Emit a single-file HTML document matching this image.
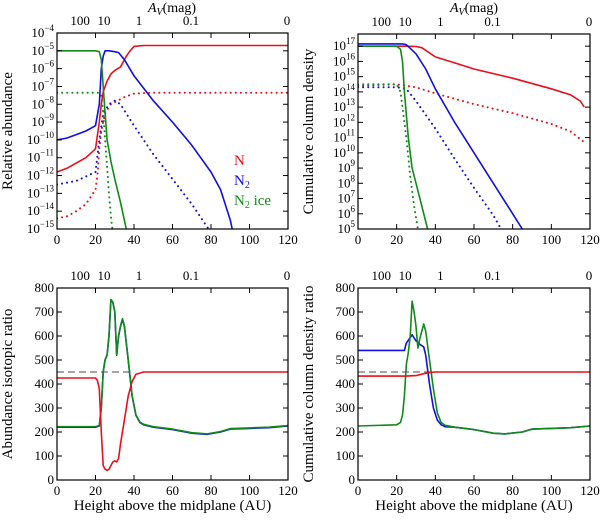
<!DOCTYPE html>
<html><head><meta charset="utf-8"><style>
body{margin:0;background:#fff}
svg, svg text, svg tspan{font-family:"Liberation Serif","DejaVu Serif",serif}
</style></head><body>
<svg id="fig" width="600" height="516" viewBox="0 0 600 516" font-family="Liberation Serif, serif"></svg>
<script>
// ---- data ----
const tlN_x=[0,5,10,15,20,22,23,24,26,28,30,33,36,38,40,45,60,120];
const tlN_y=[-11.8,-11.6,-11.3,-11,-10.5,-9,-8,-7.3,-6.7,-6.3,-6.1,-5.9,-5.3,-5,-4.75,-4.7,-4.7,-4.7];
const tlN2_x=[0,5,10,15,20,22,23,24,25,27,30,32,35,40,50,60,70,80,85,90,92];
const tlN2_y=[-10,-9.9,-9.7,-9.5,-9.2,-8,-6,-5.3,-5,-5,-5.05,-5.1,-5.5,-6.4,-7.8,-9,-10.3,-11.8,-12.8,-14.5,-15.5];
const tlIce_x=[0,20,22,23,24,25,26,28,30,33,36,37];
const tlIce_y=[-5,-5,-5.05,-5.5,-7,-8.5,-10,-11.2,-12.2,-13.5,-15,-15.5];
const tlNd_x=[0,5,10,15,20,21,22,23,25,28,35,40,50,120];
const tlNd_y=[-14.4,-14.3,-14,-13.6,-12.8,-12,-10.5,-9.5,-8.5,-8,-7.6,-7.4,-7.35,-7.35];
const tlN2d_x=[0,10,20,22,24,27,30,33,40,50,60,70,80];
const tlN2d_y=[-12.5,-12.3,-11.8,-10,-8.5,-8,-7.8,-8,-9.2,-10.8,-12.2,-13.6,-15.2];
const tlIced_x=[0,22,23,24,25,26,27,28,29,30];
const tlIced_y=[-7.35,-7.35,-7.5,-8.5,-10,-11.5,-13,-14.3,-15.2,-15.5];

const trN_x=[0,25,30,33,40,50,60,80,100,110,115,117];
const trN_y=[17,17,16.98,16.9,16.3,15.9,15.5,14.9,14.2,13.8,13.4,13.0];
const trN2_x=[0,23,25,30,35,40,50,60,70,80,85];
const trN2_y=[17.15,17.15,17.1,16.5,15.5,14.2,12,10,8,6,5];
const trIce_x=[0,20,22,23,24,26,28,30,33,36];
const trIce_y=[17,17,16.8,16,14,11,9,8,6.5,5];
const trNd_x=[0,20,30,40,60,80,100,110,118];
const trNd_y=[14.4,14.5,14.3,13.9,13.2,12.6,11.9,11.4,10.6];
const trN2d_x=[0,20,25,30,40,50,60,70,74];
const trN2d_y=[14.3,14.3,14.2,13.4,11.6,9.6,7.7,5.9,5];
const trIced_x=[0,20,22,23,25,27,29,31];
const trIced_y=[14.5,14.5,14,13,11,8.5,6.5,5];

const blN_x=[0,20,21,22,23,24,25,26,27,28,29,30,31,32,33,35,37,39,41,45,120];
const blN_y=[425,425,415,380,200,60,45,40,45,60,75,80,75,90,150,250,350,410,440,450,450];
const blN2_x=[0,20,22,23,24,25,26,27,28,29,30,31,32,33,34,35,37,39,41,43,45,50,60,70,78,85,90,100,110,120];
const blN2_y=[220,220,225,300,450,500,520,600,750,740,700,520,600,640,670,640,500,350,270,240,230,220,210,195,190,200,212,215,218,225];

const brN_x=[0,25,30,35,40,120];
const brN_y=[433,433,435,445,450,450];
const brN2_x=[0,24,25,28,30,32,34,35,37,39,41,43,45,50,60,70,76,85,90,100,110,120];
const brN2_y=[540,540,570,605,580,565,555,520,400,300,250,230,222,220,210,195,192,200,212,215,218,225];
const brIce_x=[0,20,22,23,24,25,26,27,28,29,30,31,32,34,35,37,39,41,43,45,50,60,70,76,85,90,100,110,120];
const brIce_y=[225,230,240,270,350,480,530,600,745,700,640,550,590,650,620,500,380,280,240,228,220,210,195,192,200,212,215,218,225];

const xTicks=[0,20,40,60,80,100,120];
const avLabels=["100","10","1","0.1","0"];
const avPos=[12,24.4,42.6,69.6,119.5];

// ---- drawing ----
const svg=document.getElementById('fig');
const NS='http://www.w3.org/2000/svg';
const FF='Liberation Serif, DejaVu Serif, serif';
function el(tag,attrs,parent){const e=document.createElementNS(NS,tag);for(const k in attrs)e.setAttribute(k,attrs[k]);if(tag==='text')e.setAttribute('font-family',FF);(parent||svg).appendChild(e);return e;}
const RED='#e8101a',BLUE='#1010e0',GREEN='#108a18';

function panel(name,x0,x1,y0,y1,ymin,ymax,yTickVals,yLabelFn,ytitle,showX){
  const g=el('g',{});
  
  
  const sx=v=>x0+(v/120)*(x1-x0);
  const sy=v=>y1-(v-ymin)/(ymax-ymin)*(y1-y0);
  const clipId=name+'-clip';
  const cp=el('clipPath',{id:clipId},g);el('rect',{x:x0,y:y0,width:x1-x0,height:y1-y0},cp);
  const plot=el('g',{'clip-path':'url(#'+clipId+')'},g);
  const fr=el('rect',{x:x0,y:y0,width:x1-x0,height:y1-y0,fill:'none',stroke:'#000','stroke-width':1.2},g);
  
  
  xTicks.forEach(t=>{
    el('line',{x1:sx(t),x2:sx(t),y1:y1,y2:y1-5,stroke:'#000'},g);
    el('line',{x1:sx(t),x2:sx(t),y1:y0,y2:y0+5,stroke:'#000'},g);
    const tx=el('text',{x:sx(t),y:y1+15,'text-anchor':'middle','font-size':13},g);tx.textContent=t;
    
    
  });
  avLabels.forEach((l,i)=>{
    const tx=el('text',{x:sx(avPos[i]),y:y0-8,'text-anchor':'middle','font-size':13},g);tx.textContent=l;
    
    
  });
  yTickVals.forEach(v=>{
    el('line',{x1:x0,x2:x0+5,y1:sy(v),y2:sy(v),stroke:'#000'},g);
    el('line',{x1:x1,x2:x1-5,y1:sy(v),y2:sy(v),stroke:'#000'},g);
    const tx=el('text',{x:x0-3,y:sy(v)+4,'text-anchor':'end','font-size':13},g);
    yLabelFn(tx,v);
    
    
  });
  const yt=el('text',{transform:`translate(${x0-45},${(y0+y1)/2}) rotate(-90)`,'text-anchor':'middle','font-size':15},g);
  yt.textContent=ytitle;
  
  
  if(showX){
    const xt=el('text',{x:(x0+x1)/2,y:y1+30,'text-anchor':'middle','font-size':15},g);
    xt.textContent='Height above the midplane (AU)';
    
    
  }
  return {plot,sx,sy,g};
}
function line(p,xs,ys,color,dotted,name){
  const d=xs.map((x,i)=>(i?'L':'M')+p.sx(x).toFixed(1)+','+p.sy(ys[i]).toFixed(1)).join('');
  const a={d,fill:'none',stroke:color,'stroke-width':1.6,'stroke-linejoin':'round'};
  if(dotted){a['stroke-dasharray']='0.1,5';a['stroke-linecap']='round';a['stroke-width']=2;}
  const e=el('path',a,p.plot);
  
  
}
function powLabel(){return (tx,v)=>{tx.textContent='10';const s=el('tspan',{dy:-6,'font-size':9},tx);s.textContent=String(v).replace('-','\u2212');};}

const decL=[];for(let i=-15;i<=-4;i++)decL.push(i);
const p1=panel('abundance-panel',57,288,33,229,-15,-4,decL,powLabel(),'Relative abundance',false);
line(p1,tlNd_x,tlNd_y,RED,true,'n-gas-15n-line');
line(p1,tlN2d_x,tlN2d_y,BLUE,true,'n2-15n-line');
line(p1,tlIced_x,tlIced_y,GREEN,true,'n2-ice-15n-line');
line(p1,tlN_x,tlN_y,RED,false,'n-line');
line(p1,tlN2_x,tlN2_y,BLUE,false,'n2-line');
line(p1,tlIce_x,tlIce_y,GREEN,false,'n2-ice-line');
[['N',RED,165,'legend-n'],['N',BLUE,185,'legend-n2'],['N',GREEN,205,'legend-n2-ice']].forEach((l,i)=>{
  const t=el('text',{x:234,y:l[2],fill:l[1],'font-size':15});t.textContent=l[0];
  if(i>0){const s=el('tspan',{dy:3,'font-size':10},t);s.textContent='2';const s2=el('tspan',{dy:-3},t);s2.textContent=i==2?' ice':'';}
  
  
});

const decR=[];for(let i=5;i<=17;i++)decR.push(i);
const p2=panel('column-density-panel',358,590,34,229,5,17.8,decR,powLabel(),'Cumulative column density',false);
line(p2,trNd_x,trNd_y,RED,true,'n-15n-column');
line(p2,trN2d_x,trN2d_y,BLUE,true,'n2-15n-column');
line(p2,trIced_x,trIced_y,GREEN,true,'n2-ice-15n-column');
line(p2,trN_x,trN_y,RED,false,'n-column');
line(p2,trN2_x,trN2_y,BLUE,false,'n2-column');
line(p2,trIce_x,trIce_y,GREEN,false,'n2-ice-column');

const linT=[0,100,200,300,400,500,600,700,800];
const linLab=(tx,v)=>{tx.textContent=v;};
const p3=panel('abundance-ratio-panel',57,288,288,480,0,800,linT,linLab,'Abundance isotopic ratio',true);
const d3=el('line',{x1:p3.sx(0),x2:p3.sx(40),y1:p3.sy(450),y2:p3.sy(450),stroke:'#888','stroke-width':1.5,'stroke-dasharray':'7,4'},p3.plot);


line(p3,blN2_x,blN2_y,BLUE,false,'n2-ratio');
line(p3,blN2_x,blN2_y.map(v=>v+2),GREEN,false,'n2-ice-ratio');
line(p3,blN_x,blN_y,RED,false,'n-ratio');

const p4=panel('column-ratio-panel',358,590,288,480,0,800,linT,linLab,'Cumulative column density ratio',true);
const d4=el('line',{x1:p4.sx(0),x2:p4.sx(40),y1:p4.sy(450),y2:p4.sy(450),stroke:'#888','stroke-width':1.5,'stroke-dasharray':'7,4'},p4.plot);


line(p4,brN2_x,brN2_y,BLUE,false,'n2-column-ratio');
line(p4,brIce_x,brIce_y,GREEN,false,'n2-ice-column-ratio');
line(p4,brN_x,brN_y,RED,false,'n-column-ratio');

[[172,'av-title-left'],[474,'av-title-right']].forEach(a=>{
  const t=el('text',{x:a[0],y:12,'text-anchor':'middle','font-size':14});
  const i=el('tspan',{'font-style':'italic'},t);i.textContent='A';
  const s=el('tspan',{dy:3,'font-size':10,'font-style':'italic'},t);s.textContent='V';
  const r=el('tspan',{dy:-3},t);r.textContent='(mag)';
  
  
});
</script>
</body></html>
